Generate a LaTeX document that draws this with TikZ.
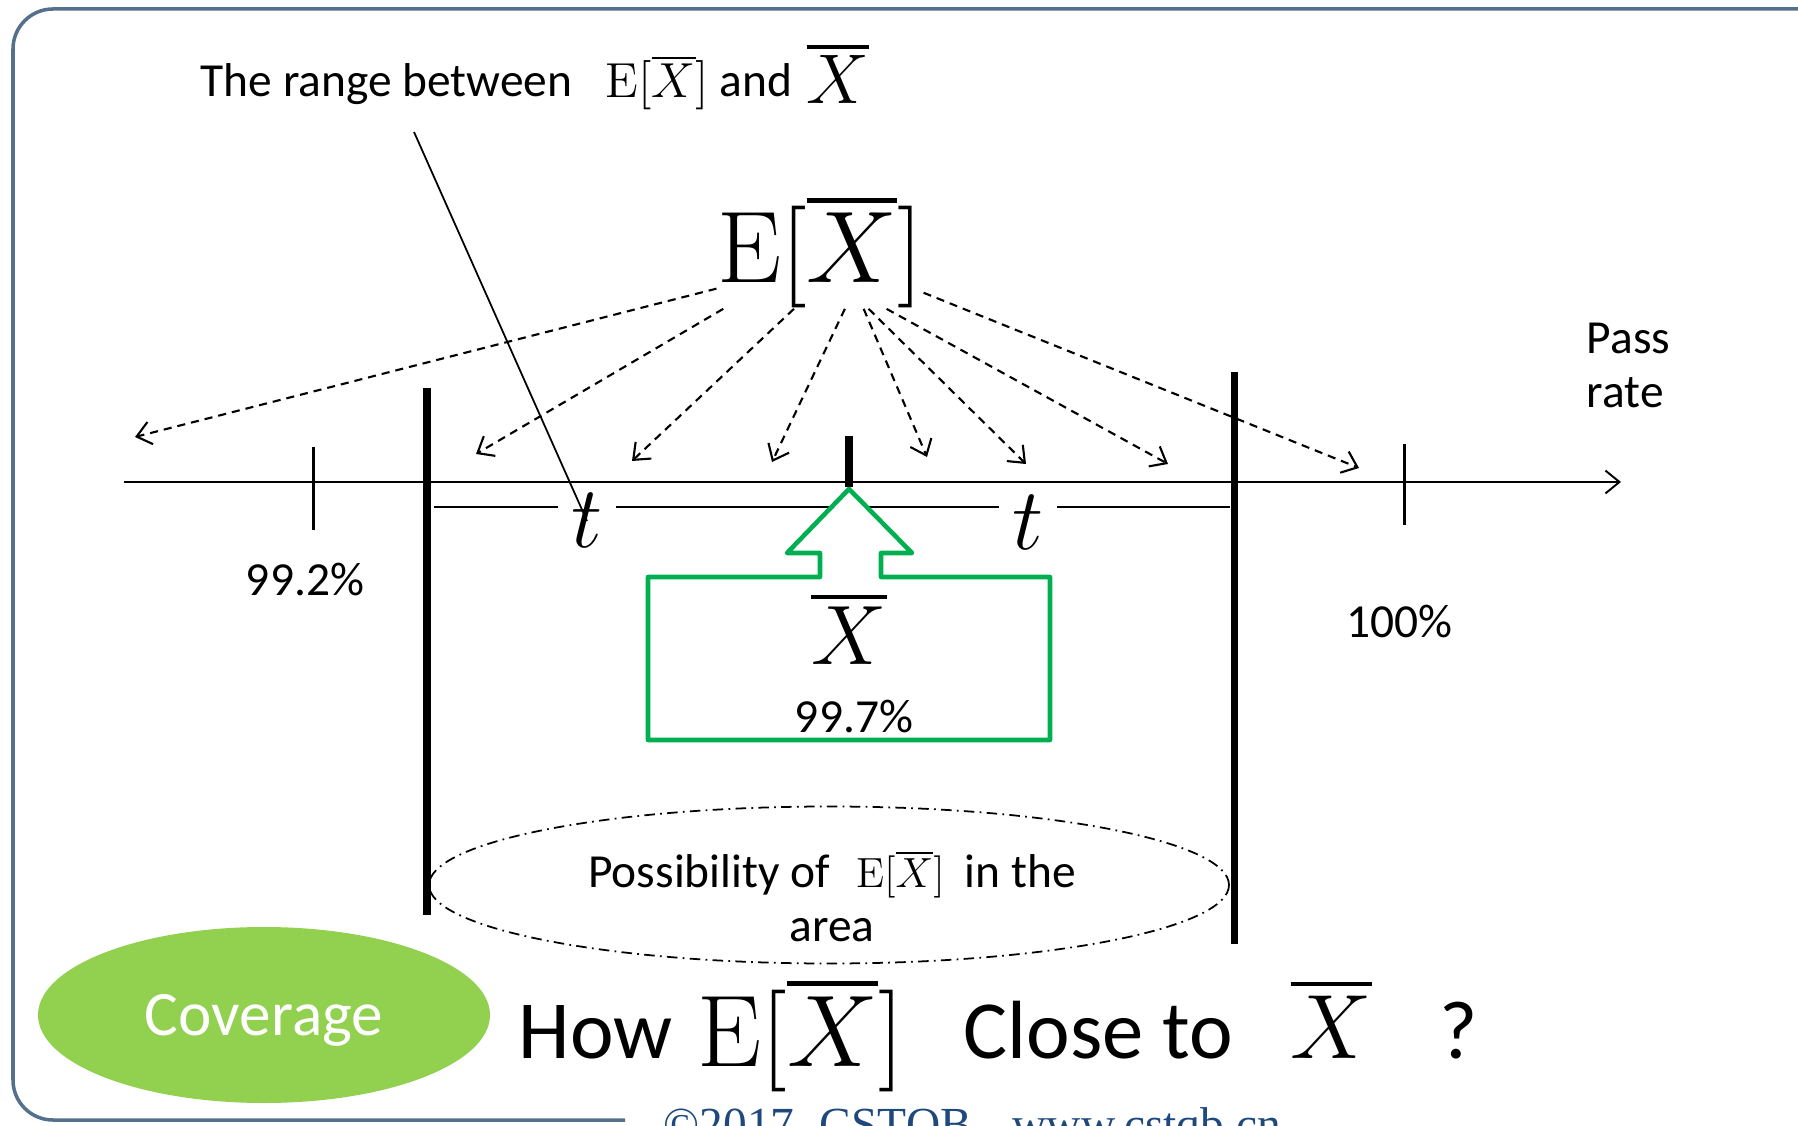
\RequirePackage{fix-cm}
\documentclass[tikz,border=0pt]{standalone}
\usepackage{fontspec}
\setsansfont{Carlito}
\newfontfamily\footfont{Liberation Serif}
\usepackage{xcolor}
\usetikzlibrary{arrows.meta,positioning,shapes.geometric}

\definecolor{framegray}{RGB}{84,112,140}
\definecolor{boxgreen}{RGB}{0,176,80}
\definecolor{covgreen}{RGB}{146,208,80}
\definecolor{footblue}{RGB}{31,73,125}

% mean with a heavier bar
\newcommand{\thickbar}[1]{\vbox{\hrule height 0.05em\kern 0.1em\hbox{$#1$}}}

\begin{document}
\begin{tikzpicture}[
    x=0.1mm, y=-0.1mm,
    txt/.style={font=\sffamily\fontsize{13.5}{15.5}\selectfont, inner sep=0},
    bigtxt/.style={font=\sffamily\fontsize{23.5}{28}\selectfont, inner sep=0},
    mth/.style={font=\fontsize{#1}{#1}\selectfont, inner sep=0},
    tickmark/.style={line width=0.85pt},
    bar/.style={line width=2pt},
    tip/.style={-{Straight Barb[length=4pt,width=6.5pt]}},
    spread/.style={tip, dash pattern=on 2.3pt off 1.7pt, line width=0.6pt},
    greenbox/.style={draw=boxgreen, line width=1.3pt, fill=white, line join=round}
  ]
  \useasboundingbox (0,0) rectangle (1798,1126);

  % Frame
  \draw[framegray, line width=1pt, rounded corners=4mm] (625,1120) -- (13,1120) -- (13,9) -- (1798,9);

  % Axis and ticks
  \draw[tip, line width=0.55pt] (124,482) -- (1621,482);
  \draw[tickmark] (313,447) -- (313,530);
  \draw[tickmark] (1404,444) -- (1404,525);
  \node[txt, anchor=base] (p992) at (305,596) {99.2\%};
  \node[txt, anchor=base] (p100) at (1399,638) {100\%};
  \node[txt, align=left, anchor=north west] (pass) at (1586,322) {Pass\\rate};

  % Bounds
  \draw[bar] (427,388) -- (427,915);
  \draw[bar] (1234,372) -- (1234,944);
  \draw[line width=2.3pt] (849,436) -- (849,487);
  \draw[line width=0.7pt] (434,507) -- (1230,507);
  \node[mth=25, fill=white, inner xsep=1.3mm, anchor=base] (tl) at (587,548) {$t$};
  \node[mth=25, fill=white, inner xsep=1.3mm, anchor=base] (tr) at (1028,550) {$t$};

  % Sample mean
  \draw[greenbox] (648,577) -- (820,577) -- (820,553) -- (787,553) -- (849,489)
    -- (912,553) -- (881,553) -- (881,577) -- (1050,577) -- (1050,740) -- (648,740) -- cycle;
  \node[mth=24, anchor=base] (xbar) at (849,665) {$\thickbar{X}$};
  \node[txt, anchor=base] (p997) at (854,733) {99.7\%};

  % Expectation
  \node[mth=29] (EX) at (820,253) {$\mathrm{E}[\thickbar{X}]$};
  \coordinate (g1) at (135,437);
  \coordinate (g2) at (476,454);
  \coordinate (g3) at (632,461);
  \coordinate (g4) at (772,462);
  \coordinate (g5) at (927,457);
  \coordinate (g6) at (1026,464);
  \coordinate (g7) at (1168,464);
  \coordinate (g8) at (1359,468);
  \draw[spread] (EX.199) -- (g1);
  \draw[spread] (EX.210) -- (g2);
  \draw[spread] (EX.245) -- (g3);
  \draw[spread] (EX.294) -- (g4);
  \draw[spread] (EX.308) -- (g5);
  \draw[spread] (EX.311) -- (g6);
  \draw[spread] (EX.320) -- (g7);
  \draw[spread] (EX.339) -- (g8);

  % Title
  \node[txt, anchor=base west] (title) at (200,97) {The range between};
  \node[mth=14, anchor=base west] (titleEX) at (605,98) {$\mathrm{E}[\thickbar{X}]$};
  \node[txt, anchor=base west] (titleand) at (719,97) {and};
  \node[mth=20, anchor=base west] (titleX) at (806,104) {$\thickbar{X}$};
  \coordinate (rangeptr) at (414,132);
  \draw[line width=0.5pt] (rangeptr) -- (tl.center);

  % Possible area
  \node[ellipse, draw, line width=0.5pt, dash pattern=on 3pt off 1.5pt on 0.5pt off 1.5pt,
    minimum width=80mm, minimum height=15.7mm] (poss) at (829,885) {};
  \node[txt, align=center] (posstxt) at (832,897)
    {Possibility of\hspace{2.6mm}{\fontsize{12}{12}\selectfont$\mathrm{E}[\thickbar{X}]$}\hspace{2mm}in the\\area};

  % Question
  \node[ellipse, fill=covgreen, minimum width=45.2mm, minimum height=17.6mm, text=white,
    font=\sffamily\fontsize{18}{22}\selectfont, text depth=0pt] (cov) at (264,1015) {Coverage};
  \node[bigtxt, anchor=base west] (how) at (518,1058) {How};
  \node[mth=29, anchor=base west] (howEX) at (697,1066) {$\mathrm{E}[\thickbar{X}]$};
  \node[bigtxt, anchor=base west] (close) at (963,1058) {Close to};
  \node[mth=26, anchor=base west] (closeX) at (1290,1058) {$\thickbar{X}$};
  \node[bigtxt, anchor=base west] (qmark) at (1439,1058) {?};

  % Footer
  \node[anchor=base west, inner sep=0, font=\footfont\fontsize{13.5}{16}\selectfont, text=footblue] (footer)
    at (663,1140) {©2017\hspace{2.5mm}CSTQB\hspace{4mm}www.cstqb.cn};
\end{tikzpicture}
\end{document}
